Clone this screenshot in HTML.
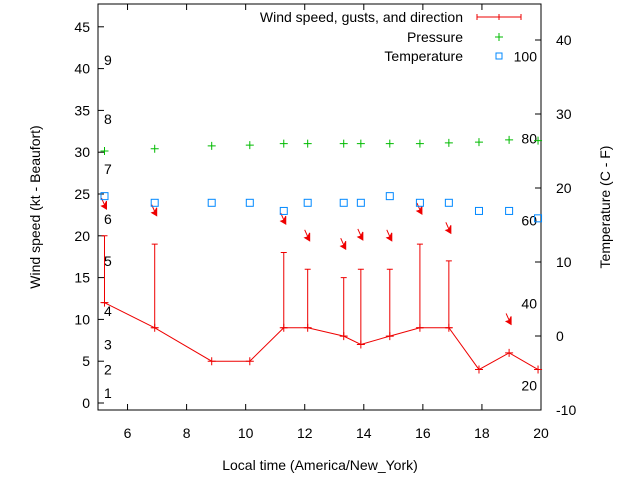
<!DOCTYPE html>
<html><head><meta charset="utf-8"><style>
body{margin:0;background:#fff}
svg{font-family:"Liberation Sans",sans-serif;font-size:14px}
</style></head><body>
<svg id="c" width="640" height="480"></svg>
<script>
const times=[5.22,6.92,8.85,10.14,11.29,12.1,13.32,13.9,14.88,15.9,16.88,17.9,18.92,19.9];
const wind=[12,9,5,5,9,9,8,7,8,9,9,4,6,4];
const gusts=[20,19,null,null,18,16,15,16,16,19,17,null,null,null];
const pressure=[25.0,25.3,25.7,25.8,26.0,26.0,26.0,26.0,26.0,26.0,26.1,26.2,26.5,26.4];
const temperature=[18.9,18.0,18.0,18.0,16.9,18.0,18.0,18.0,18.9,18.0,18.0,16.9,16.9,15.9];
const arrowLevel=[23.2,22.4,null,null,21.4,19.4,18.4,19.5,19.4,22.6,20.3,null,9.4,null];
const xTicks=[6,8,10,12,14,16,18,20];
const yTicks=[0,5,10,15,20,25,30,35,40,45];
const y2Ticks=[-10,0,10,20,30,40];
const beaufort=[[1,1.2],[2,4],[3,7],[4,11],[5,17],[6,22],[7,28],[8,34],[9,41]];
const fahr=[[20,-6.7],[40,4.4],[60,15.6],[80,26.7],[100,37.8]];
const L=98,R=541,T=4,B=410;
const X=v=>L+(v-5)/15*(R-L);
const Y=v=>403-v*8.36;
const Y2=v=>336-v*7.4;
const svg=document.getElementById('c');
const NS='http://www.w3.org/2000/svg';
function mk(t,a,p){const e=document.createElementNS(NS,t);for(const k in a)e.setAttribute(k,a[k]);(p||svg).appendChild(e);return e;}
function txt(x,y,s,anchor){const e=mk('text',{x:x,y:y,'text-anchor':anchor||'start',fill:'#000'});e.textContent=s;return e;}
let e=mk('rect',{x:L,y:T,width:R-L,height:B-T,fill:'none',stroke:'#000'});


xTicks.forEach(v=>{const x=X(v);mk('line',{x1:x,x2:x,y1:B,y2:B-6,stroke:'#000'});mk('line',{x1:x,x2:x,y1:T,y2:T+6,stroke:'#000'});
 e=txt(x,B+28,String(v),'middle');
 
 });
yTicks.forEach(v=>{const y=Y(v);mk('line',{x1:L,x2:L+6,y1:y,y2:y,stroke:'#000'});
 e=txt(L-8,y+5,String(v),'end');
 
 });
y2Ticks.forEach(v=>{const y=Y2(v);mk('line',{x1:R,x2:R-6,y1:y,y2:y,stroke:'#000'});
 e=txt(R+15,y+5,String(v),'start');
 
 });
beaufort.forEach(b=>{e=txt(104,Y(b[1])+5,String(b[0]));
 
 });
fahr.forEach(f=>{e=txt(537,Y2(f[1])+5,String(f[0]),'end');
 
 });
e=txt(320,470,'Local time (America/New_York)','middle');


e=txt(0,0,'Wind speed (kt - Beaufort)','middle');e.setAttribute('transform','translate(40,207) rotate(-90)');


e=txt(0,0,'Temperature (C - F)','middle');e.setAttribute('transform','translate(610,207) rotate(-90)');


e=mk('polyline',{points:times.map((t,i)=>X(t)+','+Y(wind[i])).join(' '),fill:'none',stroke:'#e00','stroke-width':1});


times.forEach((t,i)=>{const x=X(t),y=Y(wind[i]);
 mk('path',{d:`M${x-4} ${y}h8M${x} ${y-4}v8`,stroke:'#e00'});
 if(gusts[i]!=null){const g=Y(gusts[i]);e=mk('path',{d:`M${x} ${y}V${g}M${x-3} ${g}h6M${x-3} ${y}h6`,stroke:'#e00',fill:'none'});
  
  }
 if(arrowLevel[i]!=null){const ty=Y(arrowLevel[i]);e=mk('path',{d:`M${x-3} ${ty-11}L${x+1} ${ty-2}M${x+2} ${ty}l-5 -3l3 -1l2 -4z`,stroke:'#e00',fill:'#e00'});
  
  }
 const py=Y2(pressure[i]);e=mk('path',{d:`M${x-4} ${py}h8M${x} ${py-4}v8`,stroke:'#0b0'});
 
 
 const ty2=Y2(temperature[i]);e=mk('rect',{x:x-3.5,y:ty2-3.5,width:7,height:7,fill:'none',stroke:'#08f'});
 
 
});
const lg=mk('g',{});


[['Wind speed, gusts, and direction',22],['Pressure',42],['Temperature',61]].forEach(l=>{const t=txt(463,l[1],l[0],'end');lg.appendChild(t);});
mk('path',{d:'M477 17h44M477 14v6M521 14v6M499 14v6',stroke:'#e00'},lg);
mk('path',{d:'M495 37h8M499 33v8',stroke:'#0b0'},lg);
mk('rect',{x:496,y:53,width:6,height:6,fill:'none',stroke:'#08f'},lg);
</script>
</body></html>
